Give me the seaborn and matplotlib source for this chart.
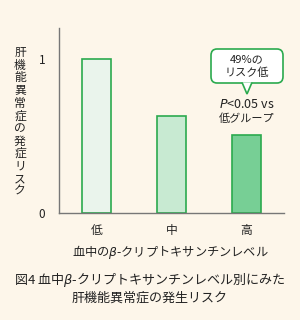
import matplotlib
matplotlib.use("Agg")
import matplotlib.pyplot as plt
import seaborn as sns
import pandas as pd
from matplotlib.patches import FancyBboxPatch, Polygon

levels = ["低", "中", "高"]
risk = [1.0, 0.63, 0.51]
bar_colors = ["#EAF4EC", "#C8EAD2", "#77CF95"]
ytick_vals = [0, 1]
ytick_labels = ["0", "1"]
ylabel_text = "肝機能異常症の発症リスク"
xlabel_text = "血中の$\\beta$-クリプトキサンチンレベル"
caption = "図4 血中$\\beta$-クリプトキサンチンレベル別にみた\n肝機能異常症の発生リスク"
callout = "49%の\nリスク低"

sns.set_theme(style="white")
plt.rcParams['font.family'] = ['Noto Sans CJK JP', 'DejaVu Sans']
plt.rcParams['mathtext.fontset'] = 'dejavusans'

bg = "#FDF6EA"
edge = "#2BAA4E"
spine = "#777777"
txt = "#222222"

fig = plt.figure(figsize=(3.0, 3.2), dpi=100, facecolor=bg)
ax = fig.add_axes([0.197, 0.334, 0.75, 0.578])
ax.set_facecolor(bg)

df = pd.DataFrame({"level": levels, "risk": risk})
sns.barplot(data=df, x="level", y="risk", hue="level", palette=bar_colors,
            legend=False, width=0.39, edgecolor=edge, linewidth=1.2, ax=ax, saturation=1)

ax.set_xlim(-0.5, 2.5)
ax.set_ylim(0, 1.2)
for s in ["top", "right"]:
    ax.spines[s].set_visible(False)
for s in ["left", "bottom"]:
    ax.spines[s].set_color(spine)
    ax.spines[s].set_linewidth(1.0)

ax.set_yticks(ytick_vals)
ax.set_yticklabels(ytick_labels, fontsize=8.5, color=txt)
ax.tick_params(axis="y", direction="in", length=4, color=spine, pad=10)
ax.set_xticks([0, 1, 2])
ax.set_xticklabels(levels, fontsize=8.5, color=txt)
ax.tick_params(axis="x", which="major", length=0, pad=8)
ax.set_xticks([0.5, 1.5, 2.5], minor=True)
ax.tick_params(axis="x", which="minor", direction="in", length=4, color=spine)
ax.set_xlabel("")
ax.set_ylabel("")

# vertical y label
fig.text(20/300, 1 - 122/320, "\n".join(ylabel_text), ha="center", va="center",
         fontsize=8.5, color=txt, linespacing=0.96)

# callout box
bx0, by0, bx1, by1 = 211, 49, 283, 83
box = FancyBboxPatch((bx0/300, 1 - by1/320), (bx1 - bx0)/300, (by1 - by0)/320,
                     boxstyle="round,pad=0,rounding_size=0.02", transform=fig.transFigure,
                     facecolor="white", edgecolor=edge, linewidth=1.2, zorder=5)
fig.patches.append(box)
tri = Polygon([(242/300, 1 - (by1 - 0.6)/320), (247/300, 1 - 94/320), (252/300, 1 - (by1 - 0.6)/320)],
              closed=False, transform=fig.transFigure, facecolor="white", edgecolor=edge,
              linewidth=1.2, zorder=6)
fig.patches.append(tri)
fig.text(247/300, 1 - 66/320, callout, ha="center", va="center", fontsize=8,
         color=txt, linespacing=1.3, zorder=7)

fig.text(247/300, 1 - 105/320, "$P$<0.05 vs", ha="center", va="center", fontsize=9, color=txt)
fig.text(247/300, 1 - 119/320, "低グループ", ha="center", va="center", fontsize=8, color=txt)

fig.text(170/300, 1 - 252/320, xlabel_text, ha="center", va="center", fontsize=8.8, color=txt)
fig.text(150/300, 1 - 288/320, caption, ha="center", va="center", fontsize=9.4, color=txt,
         linespacing=1.3)

fig.savefig("out.png", dpi=100, facecolor=bg)
